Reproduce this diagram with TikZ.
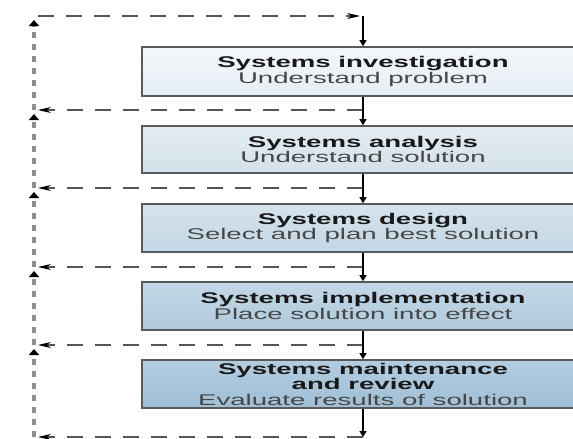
\documentclass[tikz,border=0pt]{standalone}
\usepackage{fontspec}
\usetikzlibrary{arrows.meta}
\newfontfamily\boxfont[FakeStretch=1.78]{Liberation Sans}
\definecolor{bordergray}{HTML}{5A5A5A}
\definecolor{subgray}{HTML}{474747}
\definecolor{dashgray}{HTML}{555555}
\definecolor{retgray}{HTML}{8E8E8E}
\newcommand\stagesub[1]{{\color{subgray}#1}}
\tikzset{
  stage/.style={draw=bordergray, line width=1.6pt, minimum width=442pt,
    inner sep=0pt, align=center, text=black!90,
    font=\boxfont\fontsize{15.5}{15.5}\selectfont},
  flow/.style={line width=1.2pt, -{Triangle[width=7pt,length=6pt]}},
  fb/.style={draw=dashgray, line width=1.1pt, dash pattern=on 16pt off 12pt},
  fbtip/.style={-{Stealth[length=13pt,width=6pt,color=black]}},
  ret/.style={draw=retgray, line width=3.5pt, dash pattern=on 6pt off 6pt,
    -{Triangle[width=10pt,length=6pt,color=black]}}
}
\begin{document}
\begin{tikzpicture}[x=1pt,y=-1pt]
\useasboundingbox (0,0) rectangle (573,439);
\fill[white] (0,0) rectangle (573,439);
\clip (0,0) rectangle (573,439);
% stages
\node[stage, top color={rgb,255:red,244;green,247;blue,250}, bottom color={rgb,255:red,230;green,238;blue,244}, minimum height=49pt] (b1) at (363,71.5)
  {\textbf{Systems investigation}\\\stagesub{Understand problem}};
\node[stage, top color={rgb,255:red,228;green,236;blue,242}, bottom color={rgb,255:red,211;green,225;blue,234}, minimum height=47pt] (b2) at (363,149.5)
  {\textbf{Systems analysis}\\\stagesub{Understand solution}};
\node[stage, top color={rgb,255:red,213;green,227;blue,236}, bottom color={rgb,255:red,195;green,215;blue,229}, minimum height=48pt] (b3) at (363,228)
  {\textbf{Systems design}\\\stagesub{Select and plan best solution}};
\node[stage, top color={rgb,255:red,196;green,216;blue,230}, bottom color={rgb,255:red,175;green,202;blue,221}, minimum height=48pt] (b4) at (363,306)
  {\textbf{Systems implementation}\\\stagesub{Place solution into effect}};
\node[stage, top color={rgb,255:red,179;green,205;blue,224}, bottom color={rgb,255:red,160;green,191;blue,214}, minimum height=48pt] (b5) at (363,384)
  {\textbf{Systems maintenance}\\\textbf{and review}\\\stagesub{Evaluate results of solution}};
% junction points
\coordinate (tc) at (363,16);
\coordinate (tl) at (34,16);
\coordinate (j1) at (363,110);
\coordinate (j2) at (363,188);
\coordinate (j3) at (363,267);
\coordinate (j4) at (363,345);
\coordinate (j5) at (363,437);
\coordinate (l1) at (34,110);
\coordinate (l2) at (34,188);
\coordinate (l3) at (34,267);
\coordinate (l4) at (34,345);
\coordinate (l5) at (34,437);
% return path (gray, upward)
\draw[ret, shorten >=4pt] (l5) -- (l4);
\draw[ret, shorten >=4pt] (l4) -- (l3);
\draw[ret, shorten >=4pt] (l3) -- (l2);
\draw[ret, shorten >=4pt] (l2) -- (l1);
\draw[ret, shorten >=4pt] (l1) -- (tl);
% feedback dashed lines
\draw[fb, fbtip, shorten <=4pt, shorten >=3pt] (tl) -- (tc);
\draw[fb, fbtip, shorten >=4pt] (j1) -- (l1);
\draw[fb, fbtip, shorten >=4pt] (j2) -- (l2);
\draw[fb, fbtip, shorten >=4pt] (j3) -- (l3);
\draw[fb, fbtip, shorten >=4pt] (j4) -- (l4);
\draw[fb, fbtip, shorten >=4pt] (j5) -- (l5);
% main flow
\draw[flow] (tc) -- (b1.north);
\draw[flow] (b1.south) -- (b2.north);
\draw[flow] (b2.south) -- (b3.north);
\draw[flow] (b3.south) -- (b4.north);
\draw[flow] (b4.south) -- (b5.north);
\draw[flow] (b5.south) -- (j5);
\end{tikzpicture}
\end{document}
